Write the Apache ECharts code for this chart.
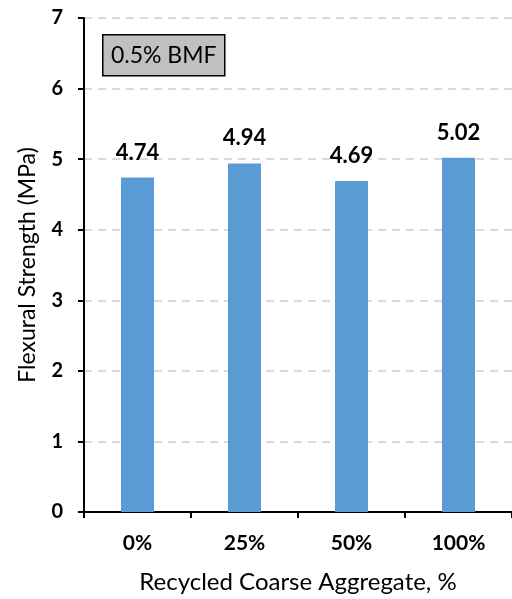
<!DOCTYPE html>
<html><head><meta charset="utf-8">
<script src="https://cdn.jsdelivr.net/npm/echarts@6/dist/echarts.min.js"></script>
<style>html,body{margin:0;padding:0;background:#fff}#c{width:512px;height:599px}</style>
</head><body><div id="c"></div>
<script>
const categories = ['0%', '25%', '50%', '100%'];
const strength = [4.74, 4.94, 4.69, 5.02];
const yTicks = [0, 1, 2, 3, 4, 5, 6, 7];
const legendLabel = '0.5% BMF';
const xTitle = 'Recycled Coarse Aggregate, %';
const yTitle = 'Flexural Strength (MPa)';

const font = 'Lato, "Open Sans", sans-serif';
const chart = echarts.init(document.getElementById('c'));
chart.setOption({
  animation: false,
  grid: { left: 84, right: -2, top: 18, bottom: 86 },
  graphic: [{
    type: 'group', left: 102, top: 34,
    children: [
      { type: 'rect', shape: { x: 0, y: 0, width: 122, height: 41 }, style: { fill: '#c0c0c0', stroke: '#000', lineWidth: 1.5 } },
      { type: 'text', style: { x: 61, y: 21, text: legendLabel, font: '23px ' + font, fill: '#000', align: 'center', verticalAlign: 'middle' } }
    ]
  }],
  xAxis: {
    type: 'category', data: categories,
    name: xTitle, nameLocation: 'middle', nameGap: 58,
    nameTextStyle: { fontFamily: font, fontSize: 24, color: '#000' },
    axisLine: { lineStyle: { color: '#000', width: 2 } },
    axisTick: { show: true, length: 6, lineStyle: { color: '#000', width: 2 } },
    axisLabel: { fontFamily: font, fontSize: 21, fontWeight: 'bold', color: '#000', margin: 21 }
  },
  yAxis: {
    type: 'value', min: yTicks[0], max: yTicks[yTicks.length - 1], interval: 1,
    name: yTitle, nameLocation: 'middle', nameGap: 45,
    nameTextStyle: { fontFamily: font, fontSize: 23, color: '#000' },
    axisLine: { show: true, lineStyle: { color: '#000', width: 2 } },
    axisTick: { show: true, length: 6, lineStyle: { color: '#000', width: 2 } },
    axisLabel: { fontFamily: font, fontSize: 20, fontWeight: 'bold', color: '#000', margin: 21 },
    splitLine: { show: true, lineStyle: { color: '#d9d9d9', width: 2, type: [8, 6] } }
  },
  series: [{
    type: 'bar', data: strength, barWidth: 33,
    itemStyle: { color: '#5b9bd5' },
    label: { show: true, position: 'top', distance: 14, formatter: p => p.value.toFixed(2),
      fontFamily: font, fontSize: 22, fontWeight: 'bold', color: '#000' }
  }]
});
</script></body></html>
